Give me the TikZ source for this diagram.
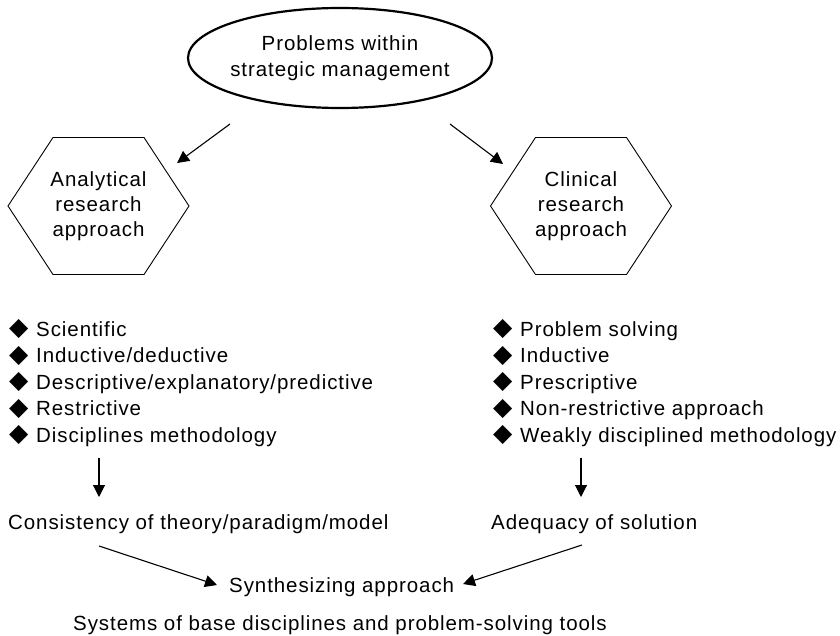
\documentclass[tikz,border=0pt]{standalone}
\usepackage{fontspec}
\setmainfont{Liberation Sans}[LetterSpace=4.5]
\newfontfamily\symbolfont{DejaVu Sans}
\usetikzlibrary{arrows.meta}

% filled diamond bullet followed by a fixed gap before the item text
\newcommand{\bulletmark}{\makebox[27pt][l]{\raisebox{0.5pt}{\symbolfont\fontsize{25}{25}\selectfont ◆}}}

\begin{document}
\begin{tikzpicture}[x=1pt,y=-1pt,
  every node/.style={font=\fontsize{20.5}{26.5}\selectfont, inner sep=0pt},
  conn/.style={line width=1.1pt, -{Triangle[length=12pt,width=12pt]}},
  hexline/.style={line width=0.9pt, line join=miter},
  listbox/.style={align=left, anchor=base west},
  plain/.style={anchor=base west},
]
\useasboundingbox (0,0) rectangle (840,636);

% top problem ellipse
\node[align=center] (prob) at (340,58) {Problems within\\strategic management};
\draw[line width=2.2pt] (prob.center) ellipse [x radius=152, y radius=50];

% the two research approaches (flattened hexagons)
\node[align=center, font=\fontsize{20.5}{25}\selectfont] (ana) at (98.5,206) {Analytical\\research\\approach};
\draw[hexline] (ana.center) ++(-90.5,0) -- ++(45,-68.5) -- ++(91,0) -- ++(45,68.5)
  -- ++(-45,68.5) -- ++(-91,0) -- cycle;

\node[align=center, font=\fontsize{20.5}{25}\selectfont] (cli) at (581,206) {Clinical\\research\\approach};
\draw[hexline] (cli.center) ++(-90.5,0) -- ++(45,-68.5) -- ++(91,0) -- ++(45,68.5)
  -- ++(-45,68.5) -- ++(-91,0) -- cycle;

% arrows from the problem to each approach
\coordinate (probL) at (230,124);
\coordinate (anaIn) at (177,163);
\coordinate (probR) at (450,124);
\coordinate (cliIn) at (503,164);
\draw[conn] (probL) -- (anaIn);
\draw[conn] (probR) -- (cliIn);

% characteristics of each approach (base anchor sits on the last line)
\node[listbox] (anaList) at (9,442) {\bulletmark Scientific\\
  \bulletmark Inductive/deductive\\
  \bulletmark Descriptive/explanatory/predictive\\
  \bulletmark Restrictive\\
  \bulletmark Disciplines methodology};
\node[listbox] (cliList) at (493,442) {\bulletmark Problem solving\\
  \bulletmark Inductive\\
  \bulletmark Prescriptive\\
  \bulletmark Non-restrictive approach\\
  \bulletmark Weakly disciplined methodology};

% evaluation criteria
\coordinate (anaOut) at (99,458);
\coordinate (consIn) at (99,497);
\coordinate (cliOut) at (581,458);
\coordinate (adeqIn) at (581,497);
\draw[conn] (anaOut) -- (consIn);
\draw[conn] (cliOut) -- (adeqIn);

\node[plain] (cons) at (8,529) {Consistency of theory/paradigm/model};
\node[plain] (adeq) at (491,529) {Adequacy of solution};

% synthesis
\coordinate (consOut) at (99,546);
\coordinate (synL) at (217,585);
\coordinate (adeqOut) at (582,545);
\coordinate (synR) at (463,584);
\draw[conn] (consOut) -- (synL);
\draw[conn] (adeqOut) -- (synR);

\node[plain] (syn) at (229,592) {Synthesizing approach};
\node[anchor=base] (sys) at (340,630) {Systems of base disciplines and problem-solving tools};
\end{tikzpicture}
\end{document}
